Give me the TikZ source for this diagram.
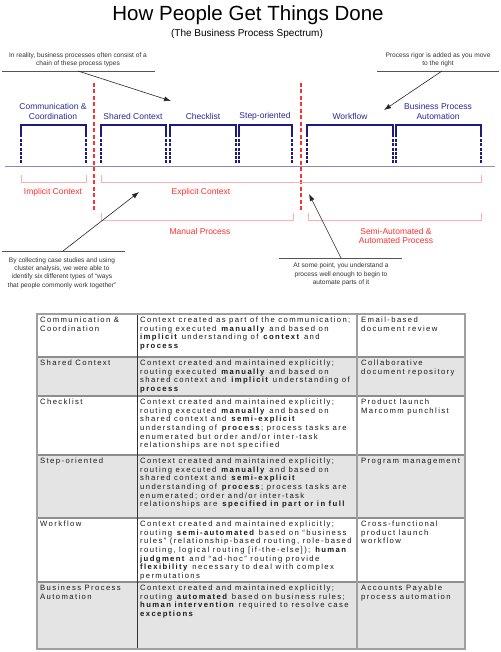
\documentclass[tikz,border=0pt]{standalone}
\usepackage{fontspec}
\setmainfont{Liberation Sans}
\newfontfamily\tabfont[LetterSpace=18]{Liberation Sans}
\usetikzlibrary{arrows.meta}
\definecolor{navy}{HTML}{1C1C80}
\definecolor{labblue}{HTML}{2A2A96}
\definecolor{axis}{HTML}{8A8ABF}
\definecolor{redl}{HTML}{FF3030}
\definecolor{pinkl}{HTML}{FFB0B0}
\definecolor{notegray}{HTML}{333333}
\definecolor{linegray}{HTML}{555555}
\definecolor{tabgray}{HTML}{A0A0A0}
\definecolor{shadegray}{HTML}{E4E4E4}
\begin{document}
\begin{tikzpicture}[x=1pt,y=-1pt,
  titlestyle/.style={font=\fontsize{20.5}{24}\selectfont, inner sep=0},
  subtitlestyle/.style={font=\fontsize{10}{12}\selectfont, inner sep=0},
  notestyle/.style={font=\fontsize{6.6}{8.3}\selectfont, align=center, text=notegray, inner sep=0},
  bluelab/.style={font=\fontsize{8.5}{10}\selectfont, text=labblue, align=center, inner sep=0},
  redlab/.style={font=\fontsize{8.5}{9}\selectfont, text=redl, align=center, inner sep=0},
  ulinestyle/.style={draw=linegray, line width=0.8pt},
  arrstyle/.style={draw=black!85, line width=0.6pt, -{Latex[length=7pt,width=5pt]}},
  brk/.style={draw=navy, line width=2pt},
  brkd/.style={draw=navy, line width=1.5pt, dash pattern=on 3pt off 1.3pt},
  reddash/.style={draw=redl, line width=1.5pt, dash pattern=on 4pt off 2.5pt},
  pinkbr/.style={draw=pinkl, line width=1pt},
  axisline/.style={draw=axis, line width=1pt},
  cell/.style={font=\tabfont\fontsize{7.7}{8.6}\selectfont, align=left, anchor=north west, inner sep=0, text=black!90},
  hline/.style={draw=tabgray!120, line width=1.3pt},
  outer/.style={draw=tabgray, line width=2pt}
]
\useasboundingbox[fill=white] (0,0) rectangle (500,652);

% Title
\node[titlestyle] (title) at (248,15) {How People Get Things Done};
\node[subtitlestyle] (subtitle) at (247,34) {(The Business Process Spectrum)};

% Notes (top)
\node[notestyle] (note1) at (78,60) {In reality, business processes often consist of a\\chain of these process types};
\coordinate (u1a) at (2,71); \coordinate (u1b) at (155,71);
\draw[ulinestyle] (u1a) -- (u1b);
\coordinate (a1s) at (78,71); \coordinate (a1e) at (171,101);
\draw[arrstyle] (a1s) -- (a1e);

\node[notestyle] (note2) at (438,60) {Process rigor is added as you move\\to the right};
\coordinate (u2a) at (377,71); \coordinate (u2b) at (499,71);
\draw[ulinestyle] (u2a) -- (u2b);
\coordinate (a2s) at (442,71); \coordinate (a2e) at (384,110);
\draw[arrstyle] (a2s) -- (a2e);

% Blue labels
\node[bluelab] (l1) at (53,111) {Communication \&\\Coordination};
\node[bluelab] (l2) at (133,116) {Shared Context};
\node[bluelab] (l3) at (203,116) {Checklist};
\node[bluelab] (l4) at (265,116) {Step-oriented};
\node[bluelab] (l5) at (350,116) {Workflow};
\node[bluelab] (l6) at (438,111) {Business Process\\Automation};

% Brackets
\foreach \l/\r in {21/86, 101/166, 170/236, 239/292, 307/393, 396/481}{
  \draw[brk] (\l,137) |- (\r,125) -- (\r,137);
  \draw[brkd] (\l,139) -- (\l,164);
  \draw[brkd] (\r,139) -- (\r,164);
}

% Axis
\coordinate (ax1) at (5,167); \coordinate (ax2) at (495,167);
\draw[axisline] (ax1) -- (ax2);

% Red dashed separators
\draw[reddash] (94,83) -- (94,213);
\draw[reddash] (301,83) -- (301,213);

% Pink brackets
\draw[pinkbr] (21,175) |- (86,183) -- (86,175);
\draw[pinkbr] (101,175) |- (481,183) -- (481,175);
\draw[pinkbr] (101,213) |- (293,220) -- (293,213);
\draw[pinkbr] (308,213) |- (481,220) -- (481,213);

% Red labels
\node[redlab] (r1) at (53,192) {Implicit Context};
\node[redlab] (r2) at (201,192) {Explicit Context};
\node[redlab] (r3) at (200,231) {Manual Process};
\node[redlab] (r4) at (396,236) {Semi-Automated \&\\Automated Process};

% Notes (bottom)
\coordinate (u3a) at (2,251); \coordinate (u3b) at (125,251);
\draw[ulinestyle] (u3a) -- (u3b);
\coordinate (a3s) at (63,251); \coordinate (a3e) at (139,192);
\draw[arrstyle] (a3s) -- (a3e);
\node[notestyle] (note3) at (62,273) {By collecting case studies and using\\cluster analysis, we were able to\\identify six different types of ``ways\\that people commonly work together''};

\coordinate (u4a) at (279,258); \coordinate (u4b) at (402,258);
\draw[ulinestyle] (u4a) -- (u4b);
\coordinate (a4s) at (341,258); \coordinate (a4e) at (309,194);
\draw[arrstyle] (a4s) -- (a4e);
\node[notestyle] (note4) at (341,274.5) {At some point, you understand a\\process well enough to begin to\\automate parts of it};

% Table
\fill[shadegray] (37,357) rectangle (465,396);
\fill[shadegray] (37,455) rectangle (465,518);
\fill[shadegray] (37,582) rectangle (465,649);
\foreach \y in {357,396,455,518,582}{\draw[hline] (37,\y) -- (465,\y);}
\draw[draw=black!80, line width=0.9pt] (137,314) -- (137,649);
\draw[outer] (357,314) -- (357,649);
\draw[outer] (37,314) rectangle (465,649);

% Row 1
\node[cell] (c11) at (40,317) {Communication \&\\Coordination};
\node[cell] (c12) at (140,317) {Context created as part of the communication;\\routing executed \textbf{manually} and based on\\\textbf{implicit} understanding of \textbf{context} and\\\textbf{process}};
\node[cell] (c13) at (361,317) {Email-based\\document review};
% Row 2
\node[cell] (c21) at (40,360) {Shared Context};
\node[cell] (c22) at (140,360) {Context created and maintained explicitly;\\routing executed \textbf{manually} and based on\\shared context and \textbf{implicit} understanding of\\\textbf{process}};
\node[cell] (c23) at (361,360) {Collaborative\\document repository};
% Row 3
\node[cell] (c31) at (40,399) {Checklist};
\node[cell] (c32) at (140,399) {Context created and maintained explicitly;\\routing executed \textbf{manually} and based on\\shared context and \textbf{semi-explicit}\\understanding of \textbf{process}; process tasks are\\enumerated but order and/or inter-task\\relationships are not specified};
\node[cell] (c33) at (361,399) {Product launch\\Marcomm punchlist};
% Row 4
\node[cell] (c41) at (40,458) {Step-oriented};
\node[cell] (c42) at (140,458) {Context created and maintained explicitly;\\routing executed \textbf{manually} and based on\\shared context and \textbf{semi-explicit}\\understanding of \textbf{process}; process tasks are\\enumerated; order and/or inter-task\\relationships are \textbf{specified in part or in full}};
\node[cell] (c43) at (361,458) {Program management};
% Row 5
\node[cell] (c51) at (40,521) {Workflow};
\node[cell] (c52) at (140,521) {Context created and maintained explicitly;\\routing \textbf{semi-automated} based on “business\\rules” (relationship-based routing, role-based\\routing, logical routing [if-the-else]); \textbf{human}\\\textbf{judgment} and “ad-hoc” routing provide\\\textbf{flexibility} necessary to deal with complex\\permutations};
\node[cell] (c53) at (361,521) {Cross-functional\\product launch\\workflow};
% Row 6
\node[cell] (c61) at (40,585) {Business Process\\Automation};
\node[cell] (c62) at (140,585) {Context created and maintained explicitly;\\routing \textbf{automated} based on business rules;\\\textbf{human intervention} required to resolve case\\\textbf{exceptions}};
\node[cell] (c63) at (361,585) {Accounts Payable\\process automation};
\end{tikzpicture}
\end{document}
